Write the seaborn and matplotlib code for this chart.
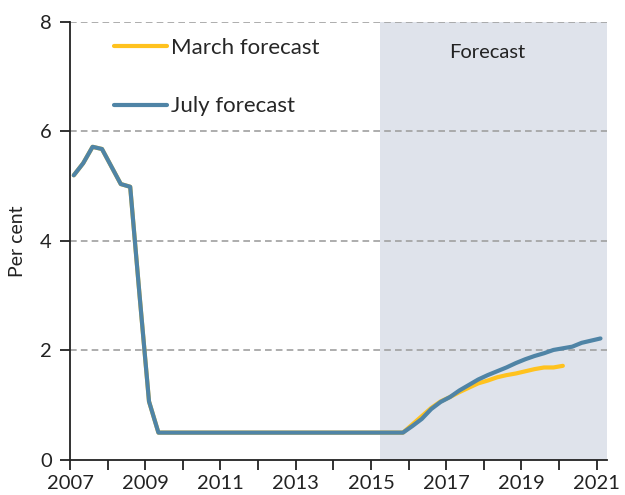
import numpy as np
import pandas as pd
import matplotlib
matplotlib.use("Agg")
import matplotlib.pyplot as plt
import seaborn as sns

# Quarterly Bank Rate path (per cent), first point 2007 Q1
start_year = 2007
history = [5.2, 5.42, 5.72, 5.68, 5.36, 5.04, 4.99, 3.0, 1.07, 0.5,
           0.5, 0.5, 0.5, 0.5, 0.5, 0.5, 0.5, 0.5, 0.5, 0.5, 0.5, 0.5,
           0.5, 0.5, 0.5, 0.5, 0.5, 0.5, 0.5, 0.5, 0.5, 0.5, 0.5, 0.5,
           0.5, 0.5]  # through 2015 Q4
march_forecast = [0.65, 0.80, 0.95, 1.07, 1.15, 1.24, 1.32, 1.40, 1.45,
                  1.51, 1.55, 1.58, 1.62, 1.66, 1.69, 1.69, 1.72]  # 2016Q1-2020Q1
july_forecast = [0.62, 0.75, 0.93, 1.06, 1.15, 1.27, 1.37, 1.47, 1.55,
                 1.62, 1.69, 1.77, 1.84, 1.90, 1.95, 2.01, 2.04, 2.07,
                 2.14, 2.18, 2.22]  # 2016Q1-2021Q1
series_names = ["March forecast", "July forecast"]
forecast_start = 2015.25
x_ticks = list(range(2007, 2022))
x_labels = [str(y) if y % 2 == 1 else "" for y in x_ticks]
y_ticks = [0, 2, 4, 6, 8]

rows = []
for name, fc in zip(series_names, [march_forecast, july_forecast]):
    vals = history + fc
    for i, v in enumerate(vals):
        rows.append({"date": start_year + 0.1 + 0.25 * i, "value": v, "series": name})
df = pd.DataFrame(rows)

sns.set_style("white")
plt.rcParams["font.family"] = ["Lato", "DejaVu Sans"]

fig = plt.figure(figsize=(6.25, 4.95), dpi=100)
ax = fig.add_axes([0.112, 0.0707, 0.859, 0.8849])

ax.axvspan(forecast_start, 2021.27, color="#DFE3EB", zorder=0, lw=0)
for y in y_ticks[1:]:
    ax.axhline(y, color="#a0a0a0", lw=1.2, ls=(0, (4, 2.5)), zorder=1)

sns.lineplot(data=df, x="date", y="value", hue="series",
             palette={"March forecast": "#FFC21E", "July forecast": "#4F84A6"},
             lw=3, ax=ax, zorder=3)

ax.set_xlim(2007, 2021.27)
ax.set_ylim(0, 8)
ax.set_xticks(x_ticks)
ax.set_xticklabels(x_labels)
ax.set_yticks(y_ticks)
ax.tick_params(axis="both", labelsize=14.5, colors="#222222", direction="out",
               length=7, width=1.3, bottom=True, left=True, pad=6)
ax.tick_params(axis="x", pad=4)
ax.set_xlabel("")
ax.set_ylabel("Per cent", fontsize=14, color="#222222", labelpad=10)
for s in ["top", "right"]:
    ax.spines[s].set_visible(False)
for s in ["left", "bottom"]:
    ax.spines[s].set_color("#222222")
    ax.spines[s].set_linewidth(1.3)

ax.text(2018.09, 7.45, "Forecast", fontsize=14.5, ha="center", va="center", color="#222222")

leg = ax.legend(loc="upper left", bbox_to_anchor=(0.045, 1.01), frameon=False,
                fontsize=16, handlelength=2.4, handletextpad=0.15, labelspacing=1.75)
for line in leg.get_lines():
    line.set_linewidth(3)

fig.savefig("out.png", dpi=100)
